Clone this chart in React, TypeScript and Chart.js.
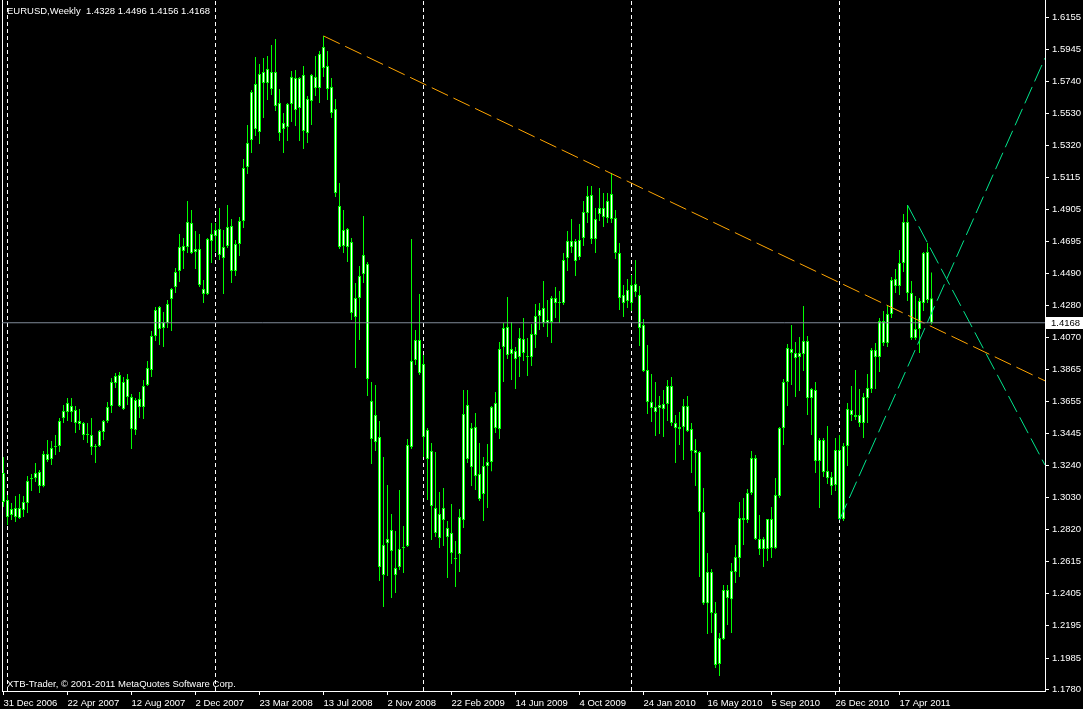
import React, { useEffect, useRef } from 'react';
import { Chart, registerables } from 'chart.js';

Chart.register(...registerables);

// Weekly EURUSD candles, week index 0 = 31 Dec 2006
const opens = [
  1.3190, 1.3014, 1.2916, 1.2962, 1.2897, 1.2949, 1.2994, 1.3151, 1.3157, 1.3196,
  1.3105, 1.3313, 1.3281, 1.3359, 1.3366, 1.3548, 1.3587, 1.3626, 1.3600, 1.3528,
  1.3515, 1.3437, 1.3437, 1.3359, 1.3366, 1.3457, 1.3528, 1.3626, 1.3776, 1.3828,
  1.3606, 1.3802, 1.3685, 1.3470, 1.3672, 1.3619, 1.3763, 1.3860, 1.4082, 1.4270,
  1.4134, 1.4166, 1.4323, 1.4401, 1.4505, 1.4668, 1.4661, 1.4817, 1.4629, 1.4648,
  1.4388, 1.4356, 1.4700, 1.4733, 1.4778, 1.4589, 1.4668, 1.4798, 1.4505, 1.4681,
  1.4830, 1.5182, 1.5358, 1.5722, 1.5410, 1.5800, 1.5729, 1.5690, 1.5800, 1.5598,
  1.5429, 1.5442, 1.5592, 1.5761, 1.5566, 1.5781, 1.5403, 1.5611, 1.5768, 1.5696,
  1.5963, 1.5839, 1.5703, 1.5559, 1.4928, 1.4668, 1.4778, 1.4694, 1.4205, 1.4329,
  1.4485, 1.4550, 1.3658, 1.3392, 1.3424, 1.2526, 1.2734, 1.2819, 1.2572, 1.2578,
  1.2702, 1.2715, 1.3359, 1.3925, 1.4056, 1.3899, 1.3470, 1.3333, 1.2962, 1.2767,
  1.2962, 1.2832, 1.2799, 1.2637, 1.2663, 1.2884, 1.3632, 1.3229, 1.3489, 1.3183,
  1.3053, 1.3235, 1.3261, 1.3645, 1.3476, 1.4010, 1.4140, 1.3965, 1.3984, 1.3945,
  1.4062, 1.3951, 1.3945, 1.4088, 1.4212, 1.4264, 1.4166, 1.4173, 1.4329, 1.4296,
  1.4296, 1.4589, 1.4700, 1.4700, 1.4596, 1.4720, 1.4882, 1.4999, 1.4713, 1.4876,
  1.4915, 1.4850, 1.5006, 1.4850, 1.4622, 1.4349, 1.4309, 1.4296, 1.4420, 1.4349,
  1.4153, 1.3860, 1.3652, 1.3619, 1.3613, 1.3606, 1.3639, 1.3756, 1.3515, 1.3476,
  1.3489, 1.3626, 1.3476, 1.3340, 1.3326, 1.2936, 1.2343, 1.2545, 1.2278, 1.1946,
  1.2109, 1.2428, 1.2369, 1.2545, 1.2637, 1.2897, 1.2884, 1.3060, 1.3287, 1.2760,
  1.2695, 1.2695, 1.2890, 1.2702, 1.3040, 1.3483, 1.3782, 1.3997, 1.3971, 1.3945,
  1.3965, 1.4049, 1.3678, 1.3730, 1.3268, 1.3405, 1.3203, 1.3164, 1.3112, 1.3340,
  1.2890, 1.3366, 1.3600, 1.3567, 1.3567, 1.3515, 1.3678, 1.3737, 1.3991, 1.3945,
  1.4179, 1.4036, 1.4225, 1.4453, 1.4407, 1.4557, 1.4824, 1.4362, 1.4069, 1.4127,
  1.4296, 1.4629, 1.4328,
];
const highs = [
  1.3294, 1.3047, 1.2994, 1.3040, 1.3053, 1.3040, 1.3170, 1.3183, 1.3255, 1.3209,
  1.3333, 1.3405, 1.3398, 1.3437, 1.3548, 1.3632, 1.3678, 1.3678, 1.3626, 1.3606,
  1.3522, 1.3515, 1.3548, 1.3379, 1.3470, 1.3535, 1.3652, 1.3808, 1.3841, 1.3847,
  1.3815, 1.3834, 1.3704, 1.3678, 1.3717, 1.3795, 1.3919, 1.4114, 1.4270, 1.4277,
  1.4238, 1.4316, 1.4394, 1.4524, 1.4746, 1.4720, 1.4960, 1.4902, 1.4765, 1.4746,
  1.4446, 1.4720, 1.4817, 1.4817, 1.4915, 1.4772, 1.4934, 1.4843, 1.4707, 1.4856,
  1.5234, 1.5455, 1.5683, 1.5898, 1.5852, 1.5891, 1.5904, 1.5976, 1.6015, 1.5690,
  1.5533, 1.5598, 1.5807, 1.5813, 1.5768, 1.5839, 1.5644, 1.5787, 1.5904, 1.5937,
  1.6035, 1.5937, 1.5761, 1.5624, 1.5078, 1.4902, 1.4785, 1.4720, 1.4427, 1.4537,
  1.4863, 1.4563, 1.3782, 1.3763, 1.3528, 1.3294, 1.3112, 1.2923, 1.2812, 1.3079,
  1.2845, 1.3411, 1.4713, 1.4121, 1.4356, 1.3958, 1.3483, 1.3385, 1.3326, 1.3066,
  1.3092, 1.2877, 1.2988, 1.2747, 1.2955, 1.3730, 1.3730, 1.3515, 1.3580, 1.3385,
  1.3294, 1.3379, 1.3626, 1.3717, 1.4043, 1.4166, 1.4336, 1.4173, 1.4010, 1.4134,
  1.4199, 1.4069, 1.4160, 1.4290, 1.4296, 1.4440, 1.4316, 1.4342, 1.4401, 1.4375,
  1.4622, 1.4765, 1.4843, 1.4713, 1.4811, 1.4960, 1.5059, 1.5059, 1.4915, 1.5046,
  1.5012, 1.5012, 1.5143, 1.4902, 1.4687, 1.4414, 1.4453, 1.4479, 1.4576, 1.4407,
  1.4192, 1.4023, 1.3834, 1.3782, 1.3691, 1.3730, 1.3795, 1.3815, 1.3567, 1.3587,
  1.3672, 1.3691, 1.3515, 1.3411, 1.3333, 1.3092, 1.2669, 1.2565, 1.2350, 1.2148,
  1.2461, 1.2461, 1.2604, 1.2721, 1.3001, 1.3027, 1.3086, 1.3333, 1.3307, 1.2916,
  1.2773, 1.2890, 1.2968, 1.3157, 1.3489, 1.3802, 1.4030, 1.4153, 1.4043, 1.4075,
  1.4277, 1.4082, 1.3743, 1.3782, 1.3418, 1.3418, 1.3496, 1.3196, 1.3418, 1.3437,
  1.3385, 1.3645, 1.3756, 1.3860, 1.3737, 1.3711, 1.3834, 1.4004, 1.4036, 1.4199,
  1.4244, 1.4283, 1.4466, 1.4518, 1.4642, 1.4876, 1.4934, 1.4440, 1.4342, 1.4329,
  1.4629, 1.4687, 1.4496,
];
const lows = [
  1.2968, 1.2851, 1.2884, 1.2871, 1.2890, 1.2903, 1.2929, 1.3073, 1.3131, 1.3060,
  1.3098, 1.3261, 1.3242, 1.3307, 1.3326, 1.3515, 1.3528, 1.3522, 1.3450, 1.3470,
  1.3405, 1.3385, 1.3307, 1.3255, 1.3359, 1.3405, 1.3515, 1.3580, 1.3743, 1.3619,
  1.3600, 1.3632, 1.3346, 1.3437, 1.3548, 1.3541, 1.3756, 1.3815, 1.4049, 1.4023,
  1.4010, 1.4134, 1.4114, 1.4362, 1.4433, 1.4518, 1.4622, 1.4615, 1.4518, 1.4401,
  1.4296, 1.4349, 1.4557, 1.4629, 1.4576, 1.4356, 1.4655, 1.4427, 1.4472, 1.4602,
  1.4785, 1.5136, 1.5273, 1.5384, 1.5332, 1.5501, 1.5618, 1.5651, 1.5546, 1.5351,
  1.5273, 1.5351, 1.5475, 1.5449, 1.5351, 1.5299, 1.5338, 1.5455, 1.5644, 1.5598,
  1.5768, 1.5618, 1.5501, 1.4987, 1.4648, 1.4622, 1.4563, 1.4186, 1.3873, 1.4056,
  1.4427, 1.3691, 1.3248, 1.3333, 1.2487, 1.2317, 1.2519, 1.2376, 1.2409, 1.2558,
  1.2539, 1.2708, 1.3346, 1.3893, 1.3828, 1.3294, 1.3014, 1.2754, 1.2773, 1.2702,
  1.2715, 1.2506, 1.2597, 1.2448, 1.2545, 1.2832, 1.3255, 1.3105, 1.3079, 1.3007,
  1.2877, 1.2962, 1.3202, 1.3450, 1.3411, 1.3782, 1.3932, 1.3795, 1.3737, 1.3815,
  1.3919, 1.3821, 1.3886, 1.4004, 1.4121, 1.4140, 1.4075, 1.4036, 1.4199, 1.4166,
  1.4283, 1.4505, 1.4622, 1.4472, 1.4576, 1.4668, 1.4817, 1.4681, 1.4622, 1.4830,
  1.4791, 1.4817, 1.4817, 1.4583, 1.4251, 1.4205, 1.4264, 1.4244, 1.4336, 1.4017,
  1.3847, 1.3574, 1.3522, 1.3431, 1.3444, 1.3424, 1.3528, 1.3496, 1.3255, 1.3372,
  1.3274, 1.3457, 1.3190, 1.3105, 1.2513, 1.2330, 1.2142, 1.2148, 1.1920, 1.1868,
  1.2103, 1.2200, 1.2148, 1.2474, 1.2513, 1.2721, 1.2864, 1.3047, 1.2754, 1.2656,
  1.2578, 1.2617, 1.2637, 1.2695, 1.3027, 1.3372, 1.3626, 1.3763, 1.3685, 1.3724,
  1.3854, 1.3567, 1.3437, 1.3190, 1.2962, 1.3164, 1.3118, 1.3047, 1.3073, 1.2884,
  1.2877, 1.3235, 1.3528, 1.3535, 1.3489, 1.3418, 1.3515, 1.3711, 1.3737, 1.3847,
  1.4017, 1.4010, 1.4199, 1.4362, 1.4349, 1.4498, 1.4309, 1.4056, 1.4056, 1.3971,
  1.4244, 1.4296, 1.4156,
];
const closes = [
  1.3001, 1.2903, 1.2955, 1.2903, 1.2962, 1.3001, 1.3138, 1.3157, 1.3190, 1.3105,
  1.3313, 1.3274, 1.3353, 1.3366, 1.3528, 1.3593, 1.3645, 1.3587, 1.3515, 1.3509,
  1.3437, 1.3444, 1.3359, 1.3366, 1.3463, 1.3528, 1.3619, 1.3782, 1.3821, 1.3626,
  1.3782, 1.3685, 1.3476, 1.3665, 1.3619, 1.3756, 1.3873, 1.4082, 1.4251, 1.4127,
  1.4173, 1.4290, 1.4388, 1.4498, 1.4661, 1.4635, 1.4824, 1.4622, 1.4648, 1.4414,
  1.4356, 1.4713, 1.4746, 1.4772, 1.4609, 1.4661, 1.4791, 1.4505, 1.4681, 1.4830,
  1.5175, 1.5338, 1.5670, 1.5429, 1.5787, 1.5729, 1.5820, 1.5800, 1.5579, 1.5403,
  1.5468, 1.5592, 1.5768, 1.5553, 1.5761, 1.5416, 1.5624, 1.5781, 1.5696, 1.5917,
  1.5826, 1.5690, 1.5533, 1.5012, 1.4661, 1.4772, 1.4661, 1.4231, 1.4329, 1.4472,
  1.4609, 1.3802, 1.3411, 1.3567, 1.2578, 1.2721, 1.2760, 1.2682, 1.2526, 1.2695,
  1.2708, 1.3372, 1.3919, 1.4056, 1.3841, 1.3424, 1.3281, 1.2975, 1.2799, 1.2923,
  1.2884, 1.2773, 1.2669, 1.2630, 1.2903, 1.3574, 1.3281, 1.3483, 1.3170, 1.3021,
  1.3235, 1.3261, 1.3619, 1.3483, 1.3997, 1.4134, 1.3958, 1.3997, 1.3932, 1.4069,
  1.3971, 1.3945, 1.4095, 1.4212, 1.4251, 1.4166, 1.4186, 1.4329, 1.4296, 1.4303,
  1.4576, 1.4700, 1.4661, 1.4570, 1.4707, 1.4889, 1.4993, 1.4713, 1.4843, 1.4915,
  1.4856, 1.4960, 1.4843, 1.4622, 1.4329, 1.4296, 1.4381, 1.4414, 1.4368, 1.4134,
  1.3854, 1.3652, 1.3613, 1.3587, 1.3632, 1.3639, 1.3756, 1.3515, 1.3483, 1.3489,
  1.3626, 1.3463, 1.3333, 1.3320, 1.2936, 1.2343, 1.2545, 1.2278, 1.1940, 1.2116,
  1.2428, 1.2376, 1.2552, 1.2643, 1.2897, 1.2884, 1.3060, 1.3287, 1.2760, 1.2695,
  1.2760, 1.2890, 1.2702, 1.3047, 1.3483, 1.3782, 1.4004, 1.3971, 1.3938, 1.3971,
  1.4049, 1.3678, 1.3737, 1.3268, 1.3405, 1.3196, 1.3157, 1.3105, 1.3340, 1.2890,
  1.3366, 1.3606, 1.3567, 1.3554, 1.3515, 1.3685, 1.3743, 1.3991, 1.3945, 1.4179,
  1.4036, 1.4225, 1.4446, 1.4407, 1.4557, 1.4824, 1.4362, 1.4069, 1.4127, 1.4309,
  1.4622, 1.4316, 1.4168,
];

const tickWeeks = [0, 16, 32, 48, 64, 80, 96, 112, 128, 144, 160, 176, 192, 208, 224];
const tickLabels = [
  '31 Dec 2006', '22 Apr 2007', '12 Aug 2007', '2 Dec 2007', '23 Mar 2008',
  '13 Jul 2008', '2 Nov 2008', '22 Feb 2009', '14 Jun 2009', '4 Oct 2009',
  '24 Jan 2010', '16 May 2010', '5 Sep 2010', '26 Dec 2010', '17 Apr 2011',
];
const priceTicks = [
  1.1780, 1.1985, 1.2195, 1.2405, 1.2615, 1.2820, 1.3030, 1.3240, 1.3445, 1.3655, 1.3865,
  1.4070, 1.4280, 1.4490, 1.4695, 1.4905, 1.5115, 1.5320, 1.5530, 1.5740, 1.5945, 1.6155,
];
const yearSeparatorWeeks = [1, 53, 105, 157, 209];
const resistanceLine = [{ x: 80, y: 1.6035 }, { x: 260.375, y: 1.379 }];
const risingLine = [{ x: 209, y: 1.2884 }, { x: 260.375, y: 1.5891 }];
const fallingLine = [{ x: 226, y: 1.4934 }, { x: 260.375, y: 1.3242 }];
const currentPrice = 1.4168;
const weekMin = -0.375;
const weekMax = 260.375;
const priceMin = 1.1771;
const priceMax = 1.6269;
const headerText = 'EURUSD,Weekly  1.4328 1.4496 1.4156 1.4168';
const footerText = 'XTB-Trader, \u00A9 2001-2011 MetaQuotes Software Corp.';

const FONT_FAMILY = '"Liberation Sans", Arial, sans-serif';
const FONT_SIZE = 9.5;

const overlayPlugin = {
  id: 'mt4Overlay',
  afterDraw(chart: any) {
    const ctx = chart.ctx;
    const area = chart.chartArea;
    ctx.save();
    ctx.font = `${FONT_SIZE}px ${FONT_FAMILY}`;
    ctx.fillStyle = '#ffffff';
    ctx.textAlign = 'left';
    ctx.textBaseline = 'alphabetic';
    ctx.fillText(headerText, 7, 14);
    ctx.fillText(footerText, 7, 687);
    const py = Math.round(chart.scales.y.getPixelForValue(currentPrice));
    ctx.fillStyle = '#ffffff';
    ctx.fillRect(area.right + 1, py - 6, chart.width - area.right - 1, 12);
    ctx.fillStyle = '#000000';
    ctx.textBaseline = 'middle';
    ctx.fillText(currentPrice.toFixed(4), area.right + 6, py + 0.5);
    ctx.restore();
  },
};

export default function App() {
  const canvasRef = useRef<HTMLCanvasElement | null>(null);

  useEffect(() => {
    document.body.style.margin = '0';
    document.body.style.background = '#000';
    const canvas = canvasRef.current;
    if (!canvas) return;

    const green = '#00E58C';
    const lime = '#00FF00';

    const bodyData = opens.map((o, i) => ({ x: i, y: [o, closes[i]] }));
    const wickData = lows.map((l, i) => ({ x: i, y: [l, highs[i]] }));

    const separatorSets = yearSeparatorWeeks.map((w) => ({
      type: 'line',
      label: 'sep' + w,
      data: [{ x: w, y: priceMin }, { x: w, y: priceMax }],
      borderColor: '#ffffff',
      borderWidth: 1,
      borderDash: [4, 3],
      pointRadius: 0,
      order: 4,
    }));

    const chart = new Chart(canvas, {
      type: 'bar',
      data: {
        datasets: [
          {
            type: 'line',
            label: 'bid',
            data: [{ x: weekMin, y: currentPrice }, { x: weekMax, y: currentPrice }],
            borderColor: '#7F8A99',
            borderWidth: 1,
            pointRadius: 0,
            order: 0,
          },
          {
            type: 'line',
            label: 'resistance',
            data: resistanceLine,
            borderColor: '#FFA500',
            borderWidth: 1,
            borderDash: [18, 6],
            pointRadius: 0,
            order: 1,
          },
          {
            type: 'line',
            label: 'rising',
            data: risingLine,
            borderColor: green,
            borderWidth: 1,
            borderDash: [18, 6],
            pointRadius: 0,
            order: 1,
          },
          {
            type: 'line',
            label: 'falling',
            data: fallingLine,
            borderColor: green,
            borderWidth: 1,
            borderDash: [18, 6],
            pointRadius: 0,
            order: 1,
          },
          {
            type: 'bar',
            label: 'body',
            data: bodyData,
            backgroundColor: '#ffffff',
            borderColor: lime,
            borderWidth: 1,
            borderSkipped: false,
            barThickness: 3,
            maxBarThickness: 3,
            grouped: false,
            inflateAmount: 0,
            order: 2,
          },
          {
            type: 'bar',
            label: 'wick',
            data: wickData,
            backgroundColor: lime,
            borderWidth: 0,
            barThickness: 1,
            maxBarThickness: 1,
            grouped: false,
            inflateAmount: 0,
            order: 3,
          },
          ...separatorSets,
        ] as any,
      },
      options: {
        responsive: false,
        animation: false,
        devicePixelRatio: 1,
        events: [],
        layout: { padding: 0 },
        plugins: {
          legend: { display: false },
          tooltip: { enabled: false },
          title: { display: false },
        },
        scales: {
          x: {
            type: 'linear',
            position: 'bottom',
            min: weekMin,
            max: weekMax,
            bounds: 'data',
            offset: false,
            grid: {
              display: true,
              drawOnChartArea: false,
              drawTicks: true,
              tickLength: 4,
              color: '#ffffff',
              offset: false,
            },
            border: { display: true, color: '#ffffff', width: 1 },
            ticks: {
              color: '#ffffff',
              font: { family: FONT_FAMILY, size: FONT_SIZE },
              align: 'start',
              padding: 3,
              autoSkip: false,
              maxRotation: 0,
              minRotation: 0,
              callback: (_v: any, i: number) => tickLabels[i] ?? '',
            },
            afterBuildTicks: (s: any) => {
              s.ticks = tickWeeks.map((v) => ({ value: v }));
            },
            afterFit: (s: any) => {
              s.height = 18;
              s.paddingLeft = 0;
              s.paddingRight = 0;
              s.paddingTop = 0;
              s.paddingBottom = 0;
            },
          },
          y: {
            type: 'linear',
            position: 'right',
            min: priceMin,
            max: priceMax,
            bounds: 'data',
            beginAtZero: false,
            grid: {
              display: true,
              drawOnChartArea: false,
              drawTicks: true,
              tickLength: 4,
              color: '#ffffff',
            },
            border: { display: true, color: '#ffffff', width: 1 },
            ticks: {
              color: '#ffffff',
              font: { family: FONT_FAMILY, size: FONT_SIZE },
              padding: 3,
              autoSkip: false,
              callback: (v: any) => Number(v).toFixed(4),
            },
            afterBuildTicks: (s: any) => {
              s.ticks = priceTicks.map((v) => ({ value: v }));
            },
            afterFit: (s: any) => {
              s.width = 38;
              s.paddingTop = 0;
              s.paddingBottom = 0;
              s.paddingLeft = 0;
              s.paddingRight = 0;
            },
          },
          yL: {
            type: 'linear',
            position: 'left',
            display: true,
            ticks: { display: false },
            grid: { display: false, drawTicks: false },
            border: { display: true, color: '#ffffff', width: 1 },
            afterFit: (s: any) => {
              s.width = 2;
              s.paddingTop = 0;
              s.paddingBottom = 0;
              s.paddingLeft = 0;
              s.paddingRight = 0;
            },
          },
        },
      } as any,
      plugins: [overlayPlugin],
    });

    return () => chart.destroy();
  }, []);

  return (
    <div style={{ width: 1083, height: 709, background: '#000', position: 'relative' }}>
      <canvas ref={canvasRef} width={1083} height={709} style={{ display: 'block' }} />
    </div>
  );
}
